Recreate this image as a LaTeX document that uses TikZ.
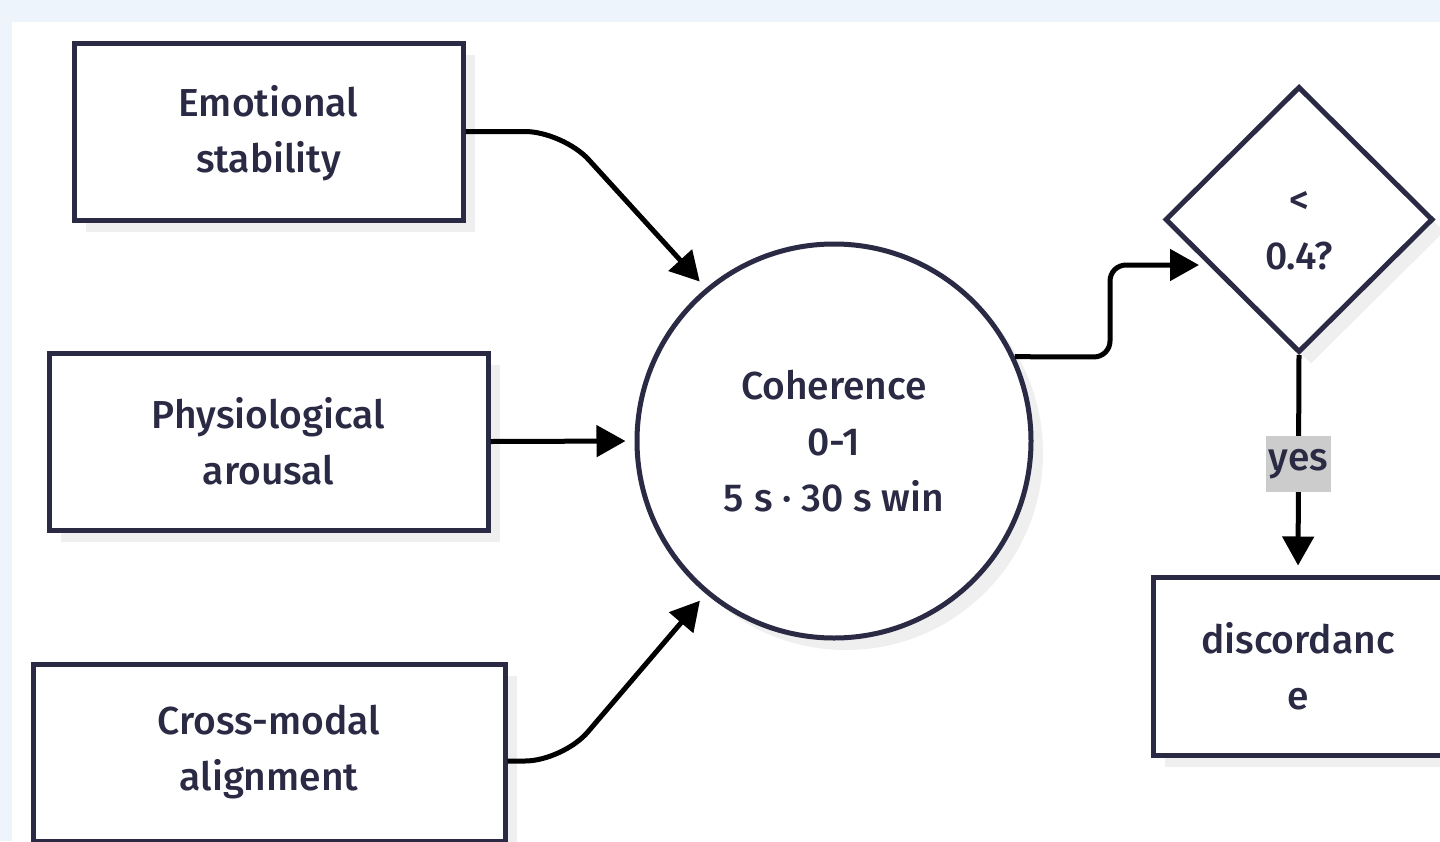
\documentclass[tikz,border=0pt]{standalone}
\usepackage{fontspec}
\setmainfont{Fira Sans Medium}
\usetikzlibrary{shapes.geometric,arrows.meta,shadows,calc}
\definecolor{bgblue}{HTML}{EDF4FB}
\definecolor{navy}{HTML}{2A2A44}
\definecolor{shade}{HTML}{EFEFEF}
\definecolor{lblgray}{HTML}{CCCCCC}
\tikzset{
  txt/.style={font=\fontsize{39}{56}\selectfont},
  shd/.style={general shadow={fill=shade, shadow xshift=12pt, shadow yshift=-12pt}},
  boxnode/.style={shd, txt, draw=navy, line width=5pt, fill=white, text=navy, align=center,
    inner sep=0pt, minimum height=177pt},
  circnode/.style={shd, txt, circle, draw=navy, line width=5pt, fill=white, text=navy, align=center,
    inner sep=0pt, minimum size=394pt},
  dianode/.style={shd, txt, diamond, draw=navy, line width=5pt, fill=white, text=navy, align=center,
    inner sep=0pt, minimum width=268pt, minimum height=266pt},
  conn/.style={draw=black, line width=5pt, -{Triangle[length=29pt,width=31pt]}, shorten >=9pt},
  lbl/.style={fill=lblgray, text=navy, inner sep=0pt, minimum width=65pt, minimum height=56pt,
    font=\fontsize{39}{44}\selectfont}
}
\begin{document}
\begin{tikzpicture}[x=1pt,y=-1pt]
\useasboundingbox (0,0) rectangle (1440,841);
\fill[bgblue] (0,0) rectangle (1440,841);
\fill[white] (12,22) rectangle (1440,841);

\node[boxnode, minimum width=389pt] (b1) at (268.5,131.5) {\rule{0pt}{34pt}Emotional\\stability};
\node[boxnode, minimum width=439pt] (b2) at (268.5,441.5) {Physiological\\arousal};
\node[boxnode, minimum width=472pt] (b3) at (269,752.5) {Cross-modal\\alignment};
\node[circnode] (c) at (834,441) {Coherence\\0-1\\5 s · 30 s win};
\node[dianode] (d) at (1299,219.5) {\rule{0pt}{44pt}<\\0.4?};
\node[boxnode, minimum width=290pt, minimum height=178pt] (r) at (1298,666) {discordanc\\e};

\coordinate (k1) at (563,131.5);
\coordinate (k3) at (563,761);
\coordinate (s3) at (b3.east |- k3);
\draw[conn, rounded corners=38pt] (b1.east) -- (k1) -- (c.130);
\draw[conn] (b2.east) -- (c.west);
\draw[conn, rounded corners=38pt] (s3) -- (k3) -- (c.230);

\coordinate (din) at (1211,265);
\coordinate (m1) at (1110,357);
\coordinate (m2) at (1110,265);
\draw[conn, rounded corners=16pt, shorten >=12pt] (c.25.3) -- (m1) -- (m2) -- (din);

\draw[conn] (d.south) -- (r.north) node[lbl, pos=0.5, yshift=1pt] (yl) {yes};
\end{tikzpicture}
\end{document}
